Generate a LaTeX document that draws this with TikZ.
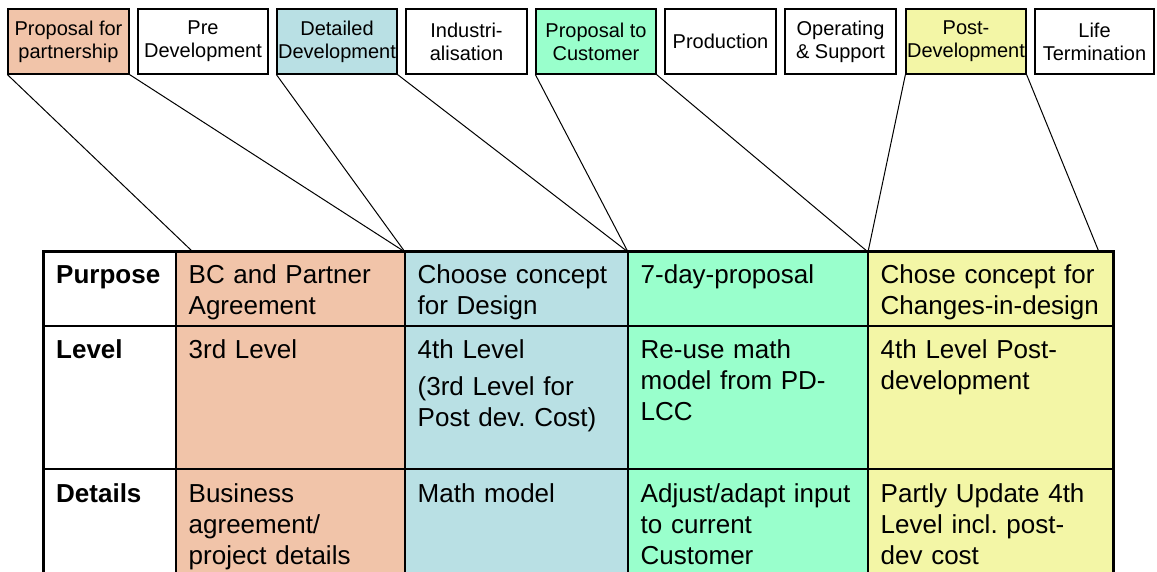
\documentclass[tikz,border=0pt]{standalone}
\usepackage{fontspec}
\setmainfont{Liberation Sans}
\frenchspacing
\definecolor{partnerorange}{RGB}{241,196,169}
\definecolor{detailteal}{RGB}{185,224,228}
\definecolor{customermint}{RGB}{153,255,204}
\definecolor{postyellow}{RGB}{243,246,166}

\begin{document}
\begin{tikzpicture}[x=1pt,y=-1pt,
					phase/.style={draw, line width=1.2pt, inner sep=0pt, minimum height=65pt, align=center, font=\fontsize{20}{23}\selectfont},
					celltext/.style={anchor=north west, inner sep=0pt, text width=220pt, align=left, font=\fontsize{26}{31}\selectfont\frenchspacing, execute at begin node=\strut},
					rowhead/.style={celltext, text width=110pt, font=\fontsize{26}{31}\selectfont\bfseries},
					grid/.style={line width=1.5pt},
					link/.style={line width=1pt}]
					
					\useasboundingbox (0,0) rectangle (1157,572);
					
					\node[phase, fill=partnerorange, minimum width=121pt] (partner) at (68.5,41.5) {Proposal for\\partnership};
					\node[phase, minimum width=130pt] (predev) at (203,41.5) {Pre\\Development};
					\node[phase, fill=detailteal, minimum width=120pt] (detdev) at (337,41.5) {Detailed\\Development};
					\node[phase, minimum width=121pt] (indus) at (466.5,41.5) {Industri-\\alisation};
					\node[phase, fill=customermint, minimum width=120pt] (propcust) at (596,41.5) {Proposal to\\Customer};
					\node[phase, minimum width=111pt] (prod) at (720.5,41.5) {Production};
					\node[phase, minimum width=111pt] (opsup) at (840.5,41.5) {Operating\\\& Support};
					\node[phase, fill=postyellow, minimum width=120pt] (postdev) at (966,41.5) {Post-\\Development};
					\node[phase, minimum width=119pt] (lifeterm) at (1094.5,41.5) {Life\\Termination};
					
					\fill[partnerorange] (176,252) rectangle (405,572);
					\fill[detailteal] (405,252) rectangle (628,572);
					\fill[customermint] (628,252) rectangle (868,572);
					\fill[postyellow] (868,252) rectangle (1113,572);
					
					\draw[grid] (43,326) -- (1113,326);
					\draw[grid] (43,469) -- (1113,469);
					\draw[grid] (176,252) -- (176,572);
					\draw[grid] (405,252) -- (405,572);
					\draw[grid] (628,252) -- (628,572);
					\draw[grid] (868,252) -- (868,572);
					\draw[line width=3pt] (43,572) -- (43,252) -- (1113,252) -- (1113,572);
					
					\coordinate (t0) at (193,252);
					\coordinate (t1) at (405,252);
					\coordinate (t2) at (628,252);
					\coordinate (t3) at (868,252);
					\coordinate (t4) at (1099,252);
					
					\draw[link] (partner.south west) -- (t0);
					\draw[link] (partner.south east) -- (t1);
					\draw[link] (detdev.south west) -- (t1);
					\draw[link] (detdev.south east) -- (t2);
					\draw[link] (propcust.south west) -- (t2);
					\draw[link] (propcust.south east) -- (t3);
					\draw[link] (postdev.south west) -- (t3);
					\draw[link] (postdev.south east) -- (t4);
					
					\node[rowhead] (purpose) at (56,261.3) {Purpose};
					\node[rowhead] (level) at (56,336.3) {Level};
					\node[rowhead] (details) at (56,480.3) {Details};
					
					\node[celltext] (bcpart) at (188.5,261.3) {BC and Partner\\Agreement};
					\node[celltext] (choose) at (417.5,261.3) {Choose concept\\for Design};
					\node[celltext] (sevenday) at (640.5,261.3) {7-day-proposal};
					\node[celltext] (chose) at (880.5,261.3) {Chose concept for\\Changes-in-design};
					
					\node[celltext] (third) at (188.5,336.3) {3rd Level};
					\node[celltext] (fourth) at (417.5,336.3) {4th Level\\[6pt](3rd Level for\\Post dev. Cost)};
					\node[celltext] (reuse) at (640.5,336.3) {Re-use math\\model from PD-\\LCC};
					\node[celltext] (fourthpost) at (880.5,336.3) {4th Level Post-\\development};
					
					\node[celltext] (business) at (188.5,480.3) {Business\\agreement/\\project details};
					\node[celltext] (mathmod) at (417.5,480.3) {Math model};
					\node[celltext] (adjust) at (640.5,480.3) {Adjust/adapt input\\to current\\Customer};
					\node[celltext] (partly) at (880.5,480.3) {Partly Update 4th\\Level incl. post-\\dev cost};
					
\end{tikzpicture}
\end{document}
